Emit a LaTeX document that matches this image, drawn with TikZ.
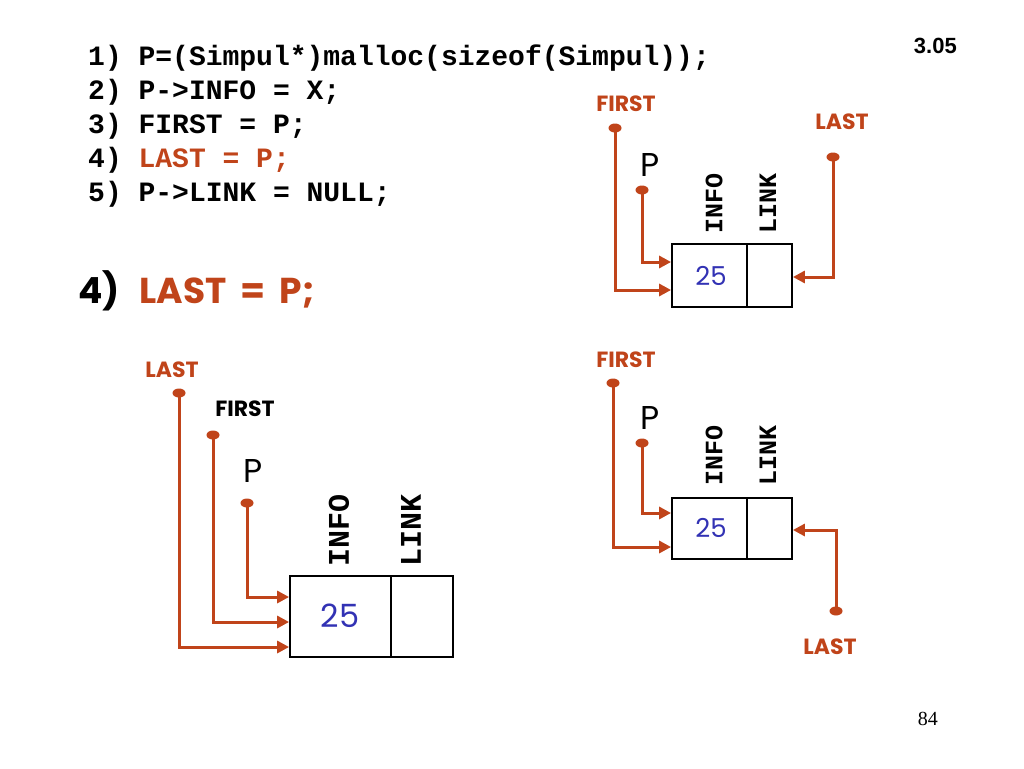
\documentclass[tikz,border=0pt]{standalone}
\usepackage{fontspec}
\usetikzlibrary{arrows.meta,shapes.geometric}
\newfontfamily\codefont{Liberation Mono}
\newfontfamily\comic{Poppins}
\newfontfamily\arialf{Liberation Sans}
\newfontfamily\timesf{Liberation Serif}
\definecolor{rust}{RGB}{192,68,26}
\definecolor{numblue}{RGB}{50,50,180}
\tikzset{
  code/.style={anchor=base west,inner sep=0pt,font=\codefont\bfseries\fontsize{28}{30}\selectfont},
  lbl/.style={inner sep=0pt,font=\comic\bfseries\fontsize{22}{24}\selectfont},
  plbl/.style={inner sep=0pt,font=\comic\fontsize{33}{35}\selectfont},
  fld/.style={inner sep=0pt,rotate=90,font=\codefont\bfseries\fontsize{25}{27}\selectfont},
  fldbig/.style={inner sep=0pt,rotate=90,font=\codefont\bfseries\fontsize{30}{32}\selectfont},
  dot/.style={ellipse,fill=rust,minimum width=13pt,minimum height=9pt,inner sep=0pt},
  cell/.style={draw=black,line width=1.8pt,inner sep=0pt},
  ptr/.style={draw=rust,line width=3pt,-{Triangle[length=12pt,width=12pt]}},
  val/.style={text=numblue,font=\comic\fontsize{26}{28}\selectfont,inner sep=0pt},
}
\begin{document}
\begin{tikzpicture}[x=1pt,y=-1pt]
\useasboundingbox[fill=white] (0,0) rectangle (1024,768);
% code
\node[code] (c1) at (88,65) {1) P=(Simpul*)malloc(sizeof(Simpul));};
\node[code] (c2) at (88,99) {2) P->INFO = X;};
\node[code] (c3) at (88,133) {3) FIRST = P;};
\node[code] (c4) at (88,167) {4) \textcolor{rust}{LAST = P;}};
\node[code] (c5) at (88,201) {5) P->LINK = NULL;};
\node[anchor=base east,inner sep=0pt,font=\arialf\bfseries\fontsize{22}{24}\selectfont] (num) at (957,54) {3.05};
\node[anchor=base east,inner sep=0pt,font=\timesf\fontsize{20}{22}\selectfont] (page) at (938,725) {84};
\node[anchor=base west,inner sep=0pt,font=\comic\bfseries\fontsize{36}{40}\selectfont] (title) at (78,303) {4)\hspace{20pt}\textcolor{rust}{LAST\hspace{14pt}=\hspace{14pt}P;}};

% ===== top-right diagram =====
\node[cell,minimum width=75pt,minimum height=63pt] (a1) at (709.5,275.5) {};
\node[cell,minimum width=45pt,minimum height=63pt] (a2) at (769.5,275.5) {};
\node[val] (a25) at (711,276) {25};
\node[fld] (ainfo) at (714,203) {INFO};
\node[fld] (alink) at (768,203) {LINK};
\node[lbl,text=rust] (afirstL) at (626,104) {FIRST};
\node[dot] (afirst) at (615,128) {};
\node[plbl] (apL) at (650,165) {P};
\node[dot] (ap) at (642,190) {};
\node[lbl,text=rust] (alastL) at (842,122) {LAST};
\node[dot] (alast) at (833,157) {};
\draw[ptr] (afirst.center) |- (a1.west |- 0,290);
\draw[ptr] (ap.center) |- (a1.west |- 0,262);
\draw[ptr] (alast.center) |- (a2.east |- 0,277);

% ===== bottom-left diagram =====
\node[cell,minimum width=101pt,minimum height=81pt] (b1) at (340.5,616.5) {};
\node[cell,minimum width=62pt,minimum height=81pt] (b2) at (422,616.5) {};
\node[val,font=\comic\fontsize{32}{34}\selectfont] (b25) at (340,616) {25};
\node[fldbig] (binfo) at (339,530) {INFO};
\node[fldbig] (blink) at (411,530) {LINK};
\node[lbl,text=rust] (blastL) at (172,370) {LAST};
\node[dot] (blast) at (179,393) {};
\node[lbl,text=black] (bfirstL) at (245,409) {FIRST};
\node[dot] (bfirst) at (213,435) {};
\node[plbl] (bpL) at (253,471) {P};
\node[dot] (bp) at (247,503) {};
\draw[ptr] (blast.center) |- (b1.west |- 0,647);
\draw[ptr] (bfirst.center) |- (b1.west |- 0,622);
\draw[ptr] (bp.center) |- (b1.west |- 0,597);

% ===== bottom-right diagram =====
\node[cell,minimum width=75pt,minimum height=61pt] (c1b) at (709.5,528.5) {};
\node[cell,minimum width=45pt,minimum height=61pt] (c2b) at (769.5,528.5) {};
\node[val] (c25) at (711,528) {25};
\node[fld] (cinfo) at (714,455) {INFO};
\node[fld] (clink) at (768,455) {LINK};
\node[lbl,text=rust] (cfirstL) at (626,360) {FIRST};
\node[dot] (cfirst) at (613,383) {};
\node[plbl] (cpL) at (650,418) {P};
\node[dot] (cp) at (642,443) {};
\node[lbl,text=rust] (clastL) at (830,647) {LAST};
\node[dot] (clast) at (836,611) {};
\draw[ptr] (cfirst.center) |- (c1b.west |- 0,547);
\draw[ptr] (cp.center) |- (c1b.west |- 0,513);
\draw[ptr] (clast.center) |- (c2b.east |- 0,530);
\end{tikzpicture}
\end{document}
